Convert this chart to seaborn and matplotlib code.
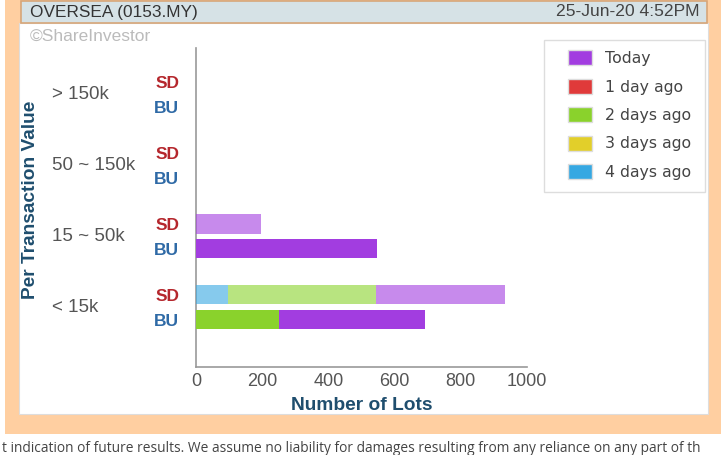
import numpy as np
import matplotlib
matplotlib.use("Agg")
import matplotlib.pyplot as plt
import matplotlib.patches as mpatches
import seaborn as sns

# data
groups = ['< 15k', '15 ~ 50k', '50 ~ 150k', '> 150k']
series = ['Today', '1 day ago', '2 days ago', '3 days ago', '4 days ago']
colors = ['#a23de0', '#e03a3a', '#8ad22c', '#e2cf2a', '#36a8e2']

# lots per group (same order as groups)
sd_4d = [97, 0, 0, 0]
sd_3d = [0, 0, 0, 0]
sd_2d = [447, 0, 0, 0]
sd_1d = [0, 0, 0, 0]
sd_today = [390, 195, 0, 0]

bu_4d = [0, 0, 0, 0]
bu_3d = [0, 0, 0, 0]
bu_2d = [251, 0, 0, 0]
bu_1d = [0, 0, 0, 0]
bu_today = [441, 547, 0, 0]

x_ticks = [0, 200, 400, 600, 800, 1000]

sns.set_style("white")
plt.rcParams['font.family'] = ['Liberation Sans', 'DejaVu Sans']

W, H = 728, 455
fig = plt.figure(figsize=(W / 100, H / 100), dpi=100)
fig.patch.set_facecolor('white')

def box(x0, y0, x1, y1, z, **kw):
    fig.patches.append(mpatches.Rectangle((x0 / W, 1 - y1 / H), (x1 - x0) / W, (y1 - y0) / H,
                                          transform=fig.transFigure, figure=fig, zorder=z, **kw))

# page frame
box(5, 0, 721, 434, -3, facecolor='#ffcfa1', edgecolor='none')
box(19, 23, 708, 414, -2, facecolor='white', edgecolor='#dddddd', lw=0.8)
box(21, 1, 707, 23, -1, facecolor='#d6e2e6', edgecolor='#d7a679', lw=1.2)
# legend frame
box(544, 40, 705, 192, -1, facecolor='white', edgecolor='#dddddd', lw=1.0)

fig.text(30 / W, 1 - 12 / H, 'OVERSEA (0153.MY)', fontsize=12.4, color='#333333', va='center')
fig.text(700 / W, 1 - 12 / H, '25-Jun-20 4:52PM', fontsize=12.6, color='#444444', va='center', ha='right')
fig.text(30 / W, 1 - 36 / H, '\u00a9ShareInvestor', fontsize=12.5, color='#bbbbbb', va='center')
fig.text(2 / W, 1 - 448 / H, 't indication of future results. We assume no liability for damages resulting '
         'from any reliance on any part of th', fontsize=9.9, color='#444444', va='center',
         family=['Open Sans', 'DejaVu Sans'])

ax = fig.add_axes([196 / W, 1 - 367 / H, 331 / W, 319 / H])
ax.set_facecolor('none')

ypos = np.arange(len(groups))
off = 0.176
hgt = 0.28

def stack(vals_list, y, alpha):
    left = np.zeros(len(groups))
    for vals, c in zip(vals_list, colors[::-1]):
        v = np.array(vals, dtype=float)
        ax.barh(y, v, left=left, height=hgt, color=c, alpha=alpha, edgecolor='none', zorder=3)
        left += v

stack([sd_4d, sd_3d, sd_2d, sd_1d, sd_today], ypos + off, 0.6)
stack([bu_4d, bu_3d, bu_2d, bu_1d, bu_today], ypos - off, 1.0)

ax.set_xlim(0, 1000)
ax.set_ylim(-0.845, 3.65)
ax.set_xticks(x_ticks)
ax.set_xticklabels([str(t) for t in x_ticks], fontsize=13, color='#555555')
ax.tick_params(axis='x', direction='in', length=4, color='#aaaaaa', pad=4)

yt = np.concatenate([ypos + off, ypos - off])
ax.set_yticks(yt)
ax.set_yticklabels(['SD'] * 4 + ['BU'] * 4, fontsize=12.5, fontweight='bold')
for lab in ax.get_yticklabels():
    lab.set_color('#b5272d' if lab.get_text() == 'SD' else '#2f6aa6')
ax.tick_params(axis='y', length=0, pad=12)

for g, name in zip(ypos, groups):
    ax.text(-0.435, g, name, transform=ax.get_yaxis_transform(), fontsize=13.5,
            color='#555555', va='center', ha='left')

sns.despine(ax=ax, top=True, right=True)
for s in ['left', 'bottom']:
    ax.spines[s].set_color('#999999')
    ax.spines[s].set_linewidth(1.2)

ax.set_xlabel('Number of Lots', fontsize=13.8, fontweight='bold', color='#1f4e6e', labelpad=5)
fig.text(31 / W, 1 - 200 / H, 'Per Transaction Value', rotation=90, fontsize=13.8,
         fontweight='bold', color='#1f4e6e', va='center', ha='center')

handles = [mpatches.Patch(facecolor=c, edgecolor='#dddddd', label=s) for s, c in zip(series, colors)]
leg = ax.legend(handles=handles, loc='upper left', bbox_to_anchor=(1.123, 0.993), borderaxespad=0,
                prop={'family': 'DejaVu Sans', 'size': 11.3}, frameon=False,
                handlelength=1.55, handleheight=1.1, labelspacing=0.8, handletextpad=0.85,
                borderpad=0.0)
for t in leg.get_texts():
    t.set_color('#444444')

fig.savefig('out.png', dpi=100)
